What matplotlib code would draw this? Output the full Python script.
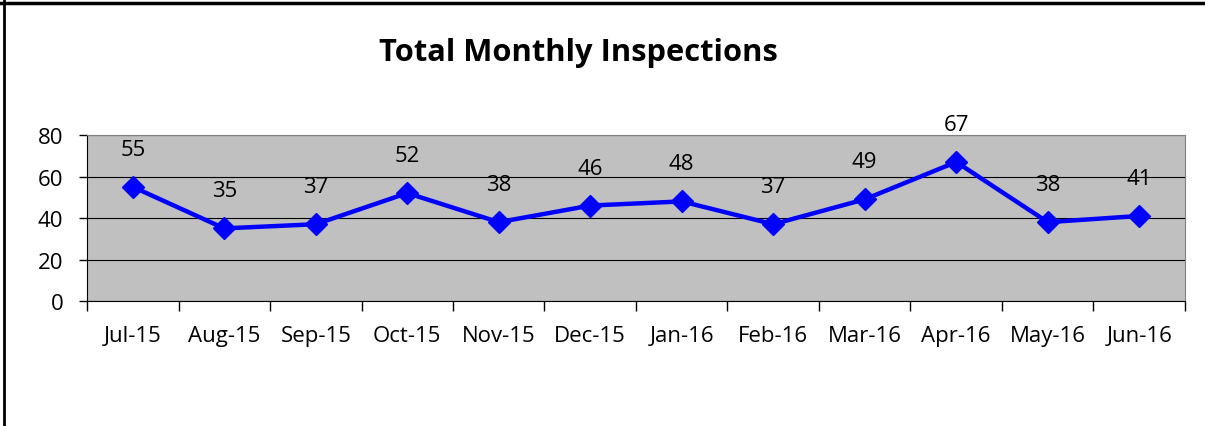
import matplotlib
matplotlib.use("Agg")
import matplotlib.pyplot as plt
from matplotlib.lines import Line2D
import numpy as np

months = ["Jul-15", "Aug-15", "Sep-15", "Oct-15", "Nov-15", "Dec-15",
          "Jan-16", "Feb-16", "Mar-16", "Apr-16", "May-16", "Jun-16"]
inspections = [55, 35, 37, 52, 38, 46, 48, 37, 49, 67, 38, 41]
y_ticks = [0, 20, 40, 60, 80]

plt.rcParams['font.family'] = ['Open Sans', 'DejaVu Sans']

fig = plt.figure(figsize=(12.05, 4.27), dpi=100)
ax = fig.add_axes([0.0722, 0.2927, 0.9112, 0.3888])
ax.set_facecolor("#C0C0C0")

x = np.arange(len(months))
ax.plot(x, inspections, color="#0000FF", lw=3.2, marker="D", markersize=11,
        zorder=3, clip_on=False)
for xi, v in zip(x, inspections):
    ax.annotate(str(v), (xi, v), xytext=(0, 27), textcoords="offset points",
                ha="center", va="center", fontsize=16, annotation_clip=False)

ax.set_xlim(-0.5, len(months) - 0.5)
ax.set_ylim(0, 80)
ax.set_yticks(y_ticks)
ax.tick_params(axis="y", labelsize=16, length=6, width=1, pad=11)
ax.yaxis.grid(True, color="black", lw=0.8)
ax.set_axisbelow(True)

ax.set_xticks(x)
ax.set_xticklabels(months)
ax.set_xticks(np.arange(-0.5, len(months)), minor=True)
ax.tick_params(axis="x", which="major", length=0, labelsize=16, pad=17)
ax.tick_params(axis="x", which="minor", length=7, width=1)

for s in ["top", "right"]:
    ax.spines[s].set_color("#808080")
for s in ["left", "bottom"]:
    ax.spines[s].set_color("black")

fig.text(0.4797, 0.876, "Total Monthly Inspections", ha="center", va="center",
         fontsize=22.2, fontweight="bold")

fig.add_artist(Line2D([0, 1], [0.9906, 0.9906], color="black", lw=2.5,
                      transform=fig.transFigure))
fig.add_artist(Line2D([0.003, 0.003], [0, 1], color="black", lw=2,
                      transform=fig.transFigure))

fig.savefig("out.png", dpi=100)
